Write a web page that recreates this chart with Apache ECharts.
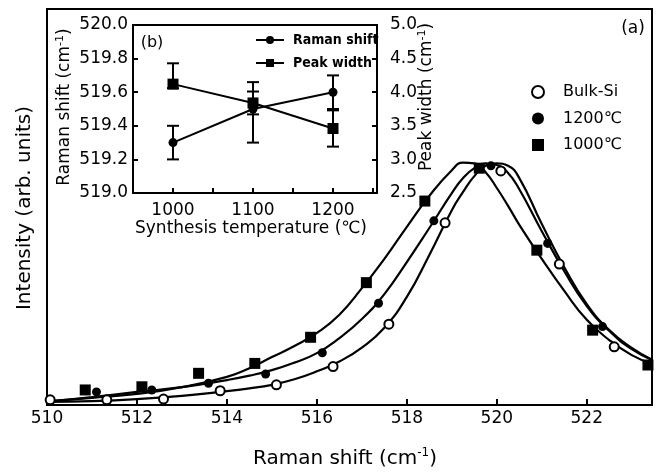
<!DOCTYPE html>
<html><head><meta charset="utf-8">
<script src="https://cdn.jsdelivr.net/npm/echarts@6/dist/echarts.min.js"></script>
<style>html,body{margin:0;padding:0;background:#fff}#c{width:657px;height:474px}</style>
</head><body><div id="c"></div>
<script>
// ---- main panel (a): fitted curves ----
const shiftGrid = [510, 511, 512, 513, 514, 514.5, 515, 515.5, 516, 516.5, 517, 517.5, 518, 518.5, 519, 519.25, 519.5, 519.75, 520, 520.25, 520.5, 521, 521.5, 522, 522.5, 523, 523.45];
const curveBulk = [0.8, 1.0, 1.5, 2.3, 3.5, 4.2, 5.1, 6.5, 8.5, 11.0, 14.5, 19.5, 27.3, 37.9, 49.2, 53.8, 57.8, 60.4, 61.0, 60.4, 57.3, 45.7, 34.8, 25.5, 18.9, 14.4, 11.4];
const curve1200 = [0.8, 2.0, 3.3, 4.5, 6.3, 7.4, 8.8, 10.7, 13.1, 16.9, 21.7, 28.0, 36.1, 44.7, 53.5, 57.3, 59.8, 61.0, 60.6, 58.6, 54.5, 43.9, 33.8, 25.0, 18.7, 14.1, 11.4];
const curve1000 = [1.0, 1.8, 2.8, 4.5, 7.1, 9.3, 12.1, 14.9, 18.2, 22.8, 29.5, 36.9, 45.0, 52.8, 59.3, 61.2, 61.0, 58.8, 54.8, 50.3, 45.5, 36.9, 28.8, 21.5, 16.4, 12.6, 10.4];
// ---- main panel (a): measured points ----
const bulkShift = [510.07, 511.33, 512.59, 513.85, 515.10, 516.36, 517.60, 518.85, 520.09, 521.39, 522.61];
const bulkInt   = [1.3, 1.3, 1.5, 3.6, 5.1, 9.7, 20.4, 46.0, 59.1, 35.6, 14.7];
const s1200Shift = [511.10, 512.33, 513.59, 514.86, 516.12, 517.37, 518.60, 519.87, 521.13, 522.35];
const s1200Int   = [3.3, 3.8, 5.5, 7.8, 13.2, 25.7, 46.5, 60.4, 40.8, 19.8];
const s1000Shift = [510.85, 512.11, 513.37, 514.62, 515.86, 517.10, 518.40, 519.61, 520.89, 522.13, 523.36];
const s1000Int   = [3.8, 4.6, 8.0, 10.5, 17.1, 30.9, 51.5, 59.8, 39.1, 18.9, 10.1];
const seriesNames = ['Bulk-Si', '1200\u2103', '1000\u2103'];
// ---- inset (b) ----
const synthTemp = [1000, 1100, 1200];
const ramanShift = [519.3, 519.5, 519.6];
const ramanLow   = [519.2, 519.3, 519.5];
const ramanHigh  = [519.4, 519.66, 519.7];
const peakWidth = [4.12, 3.84, 3.46];
const peakLow   = [4.06, 3.67, 3.19];
const peakHigh  = [4.43, 4.01, 3.73];
const insetNames = ['Raman shift', 'Peak width'];

const FF = 'DejaVu Sans';
const zip = (a, b) => a.map((v, i) => [v, b[i]]);
const zip3 = (a, b, c) => a.map((v, i) => [v, b[i], c[i]]);

function errRender(params, api) {
  const x = api.value(0), lo = api.value(1), hi = api.value(2);
  const p1 = api.coord([x, hi]), p2 = api.coord([x, lo]);
  const hw = 6, st = {stroke: '#000', lineWidth: 2};
  return {type: 'group', children: [
    {type: 'line', shape: {x1: p1[0], y1: p1[1], x2: p2[0], y2: p2[1]}, style: st},
    {type: 'line', shape: {x1: p1[0] - hw, y1: p1[1], x2: p1[0] + hw, y2: p1[1]}, style: st},
    {type: 'line', shape: {x1: p2[0] - hw, y1: p2[1], x2: p2[0] + hw, y2: p2[1]}, style: st}
  ]};
}

function txt(x, y, text, size, rot, rich) {
  return {type: 'text', x: x, y: y, rotation: rot || 0, z: 100,
    style: {text: text, fontSize: size, fontFamily: FF, fill: '#000',
      align: 'center', verticalAlign: 'middle', textAlign: 'center', textVerticalAlign: 'middle',
      rich: rich || undefined}};
}
function supRich(size) {
  return {n: {fontSize: size, fontFamily: FF, lineHeight: size + 4, fill: '#000'},
          s: {fontSize: Math.round(size * 0.62), fontFamily: FF, lineHeight: Math.round(size * 0.62), verticalAlign: 'top', fill: '#000'}};
}

const chart = echarts.init(document.getElementById('c'));
const curveStyle = {color: '#000', width: 2.2};
chart.setOption({
  animation: false,
  backgroundColor: '#fff',
  grid: [
    {left: 47, top: 9, width: 605, height: 396, show: true, borderColor: '#000', borderWidth: 2},
    {left: 133, top: 25, width: 244, height: 168, show: true, borderColor: '#000', borderWidth: 2}
  ],
  xAxis: [
    {gridIndex: 0, type: 'value', min: 510, max: 523.45, interval: 2,
     axisLine: {lineStyle: {color: '#000', width: 2}},
     axisTick: {inside: true, length: 6, lineStyle: {color: '#000', width: 2}},
     axisLabel: {color: '#000', fontSize: 17, fontFamily: FF, margin: 5, showMaxLabel: false},
     splitLine: {show: false}},
    {gridIndex: 1, type: 'value', min: 950, max: 1255, interval: 50,
     axisLine: {lineStyle: {color: '#000', width: 2}},
     axisTick: {inside: true, length: 5, lineStyle: {color: '#000', width: 2}},
     axisLabel: {color: '#000', fontSize: 17, fontFamily: FF, margin: 9, showMaxLabel: false,
       formatter: v => (v % 100 === 0 ? String(v) : '')},
     splitLine: {show: false}}
  ],
  yAxis: [
    {gridIndex: 0, type: 'value', min: 0, max: 100,
     axisLine: {show: true, lineStyle: {color: '#000', width: 2}},
     axisTick: {show: false}, axisLabel: {show: false}, splitLine: {show: false}},
    {gridIndex: 1, type: 'value', min: 519, max: 520, interval: 0.2, position: 'left',
     axisLine: {show: true, lineStyle: {color: '#000', width: 2}},
     axisTick: {show: true, inside: true, length: 5, lineStyle: {color: '#000', width: 2}},
     axisLabel: {color: '#000', fontSize: 17, fontFamily: FF, margin: 5, formatter: v => v.toFixed(1)},
     splitLine: {show: false}},
    {gridIndex: 1, type: 'value', min: 2.5, max: 5, interval: 0.5, position: 'right',
     axisLine: {show: true, lineStyle: {color: '#000', width: 2}},
     axisTick: {show: true, inside: true, length: 5, lineStyle: {color: '#000', width: 2}},
     axisLabel: {color: '#000', fontSize: 17, fontFamily: FF, margin: 13, formatter: v => v.toFixed(1)},
     splitLine: {show: false}}
  ],
  legend: [
    {data: seriesNames, orient: 'vertical', left: 531, top: 83, padding: 0, itemWidth: 12, itemHeight: 12, itemGap: 8.5,
     textStyle: {color: '#000', fontSize: 16, fontFamily: FF, lineHeight: 18, padding: [0, 0, 0, 14]}},
    {data: insetNames, orient: 'vertical', left: 255, top: 32, padding: 0, itemWidth: 28, itemHeight: 10, itemGap: 7,
     textStyle: {color: '#000', fontSize: 14, fontWeight: 'bold', fontFamily: 'DejaVu Sans Condensed', lineHeight: 16, padding: [0, 0, 0, 4]}}
  ],
  graphic: [
    txt(633, 29, '(a)', 17),
    txt(152, 43, '(b)', 16),
    txt(345, 459, '{n|Raman shift (cm}{s|-1}{n|)}', 20, 0, supRich(20)),
    txt(25, 208, 'Intensity (arb. units)', 20, Math.PI / 2),
    txt(251, 229, 'Synthesis temperature (\u2103)', 17),
    txt(65, 107, '{n|Raman shift (cm}{s|-1}{n|)}', 17, Math.PI / 2, supRich(17)),
    txt(427, 97, '{n|Peak width (cm}{s|-1}{n|)}', 17, Math.PI / 2, supRich(17))
  ],
  series: [
    {type: 'line', xAxisIndex: 0, yAxisIndex: 0, data: zip(shiftGrid, curveBulk), smooth: 0.5, showSymbol: false, symbol: 'none', lineStyle: curveStyle, z: 2, silent: true},
    {type: 'line', xAxisIndex: 0, yAxisIndex: 0, data: zip(shiftGrid, curve1200), smooth: 0.5, showSymbol: false, symbol: 'none', lineStyle: curveStyle, z: 2, silent: true},
    {type: 'line', xAxisIndex: 0, yAxisIndex: 0, data: zip(shiftGrid, curve1000), smooth: 0.5, showSymbol: false, symbol: 'none', lineStyle: curveStyle, z: 2, silent: true},
    {name: seriesNames[0], type: 'scatter', xAxisIndex: 0, yAxisIndex: 0, data: zip(bulkShift, bulkInt), symbol: 'circle', symbolSize: 9,
     itemStyle: {color: '#fff', borderColor: '#000', borderWidth: 2, opacity: 1}, z: 5},
    {name: seriesNames[1], type: 'scatter', xAxisIndex: 0, yAxisIndex: 0, data: zip(s1200Shift, s1200Int), symbol: 'circle', symbolSize: 9,
     itemStyle: {color: '#000', opacity: 1}, z: 5},
    {name: seriesNames[2], type: 'scatter', xAxisIndex: 0, yAxisIndex: 0, data: zip(s1000Shift, s1000Int), symbol: 'rect', symbolSize: 11,
     itemStyle: {color: '#000', opacity: 1}, z: 5},
    {name: insetNames[0], type: 'line', xAxisIndex: 1, yAxisIndex: 1, data: zip(synthTemp, ramanShift), symbol: 'circle', symbolSize: 9,
     itemStyle: {color: '#000'}, lineStyle: {color: '#000', width: 2}, z: 5},
    {name: insetNames[1], type: 'line', xAxisIndex: 1, yAxisIndex: 2, data: zip(synthTemp, peakWidth), symbol: 'rect', symbolSize: 11,
     itemStyle: {color: '#000'}, lineStyle: {color: '#000', width: 2}, z: 5},
    {type: 'custom', xAxisIndex: 1, yAxisIndex: 1, renderItem: errRender, data: zip3(synthTemp, ramanLow, ramanHigh), encode: {x: 0, y: [1, 2]}, z: 4, silent: true},
    {type: 'custom', xAxisIndex: 1, yAxisIndex: 2, renderItem: errRender, data: zip3(synthTemp, peakLow, peakHigh), encode: {x: 0, y: [1, 2]}, z: 4, silent: true}
  ]
});
</script></body></html>
